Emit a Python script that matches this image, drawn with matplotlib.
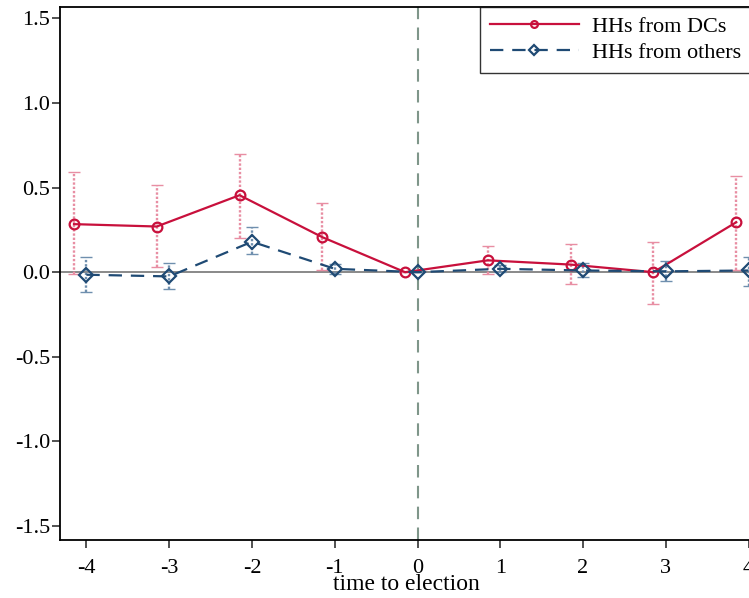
import numpy as np
import matplotlib.pyplot as plt

plt.rcParams['font.family'] = ['Liberation Serif', 'DejaVu Serif']

# event time
t = [-4, -3, -2, -1, 0, 1, 2, 3, 4]

# HHs from DCs (point estimate and 95% CI)
dc_est = [0.284, 0.270, 0.455, 0.207, 0.0, 0.070, 0.045, 0.0, 0.295]
dc_lo = [-0.010, 0.030, 0.200, 0.010, 0.0, -0.010, -0.070, -0.190, 0.010]
dc_hi = [0.590, 0.515, 0.700, 0.410, 0.0, 0.155, 0.165, 0.180, 0.570]

# HHs from others
ot_est = [-0.015, -0.025, 0.180, 0.020, 0.0, 0.020, 0.010, 0.005, 0.010]
ot_lo = [-0.115, -0.100, 0.105, -0.010, 0.0, 0.000, -0.030, -0.050, -0.080]
ot_hi = [0.090, 0.055, 0.265, 0.050, 0.0, 0.040, 0.055, 0.065, 0.090]

red = '#c8103c'
navy = '#1f4a74'

fig = plt.figure(figsize=(7.49, 5.98), dpi=100)
ax = fig.add_axes([0.080, 0.097, 0.925, 0.892])

ax.axhline(0, color='#808080', lw=1.3, zorder=1)
ax.axvline(0, color='#7f968a', lw=1.5, ls=(0, (6, 4)), zorder=1)

x_dc = np.array(t) - 0.15
x_ot = np.array(t, dtype=float)

def draw(x, est, lo, hi, col, bar_col, marker, ls, label):
    est = np.array(est)
    err = [est - np.array(lo), np.array(hi) - est]
    eb = ax.errorbar(x, est, yerr=err, fmt='none', ecolor=bar_col, elinewidth=1.7,
                     capsize=4, capthick=1.0, zorder=2)
    eb[2][0].set_linestyle((0, (1, 0.8)))
    ax.plot(x, est, color=col, ls=ls, lw=1.6, marker=marker, ms=7,
            mfc='none', mec=col, mew=1.6, label=label, zorder=3)

draw(x_dc, dc_est, dc_lo, dc_hi, red, '#e88ea3', 'o', '-', 'HHs from DCs')
draw(x_ot, ot_est, ot_lo, ot_hi, navy, '#6f8fae', 'D', (0, (6, 4)), 'HHs from others')

ax.set_xlim(-4.32, 4.05)
ax.set_ylim(-1.583, 1.57)
ax.set_xticks(t)
ax.set_xticklabels([str(v) for v in t])
ax.set_yticks([-1.5, -1.0, -0.5, 0.0, 0.5, 1.0, 1.5])
ax.set_yticklabels(['-1.5', '-1.0', '-0.5', '0.0', '0.5', '1.0', '1.5'])
ax.tick_params(labelsize=16, length=6, width=1.2, direction='out', color='#333333')
ax.tick_params(axis='x', pad=8)
ax.tick_params(axis='y', pad=1)
for s in ['left', 'bottom', 'top']:
    ax.spines[s].set_linewidth(1.3)
ax.spines['right'].set_visible(False)
ax.set_xlabel('time to election', fontsize=17, labelpad=-3)

leg = ax.legend(loc='upper right', fontsize=16, frameon=True, fancybox=False,
                edgecolor='black', borderaxespad=0.0, handlelength=4.0,
                handletextpad=0.6, markerscale=0.7, borderpad=0.45,
                labelspacing=0.25, bbox_to_anchor=(0.998, 1.0))
leg.get_frame().set_linewidth(1.0)

fig.savefig('out.png', dpi=100)
